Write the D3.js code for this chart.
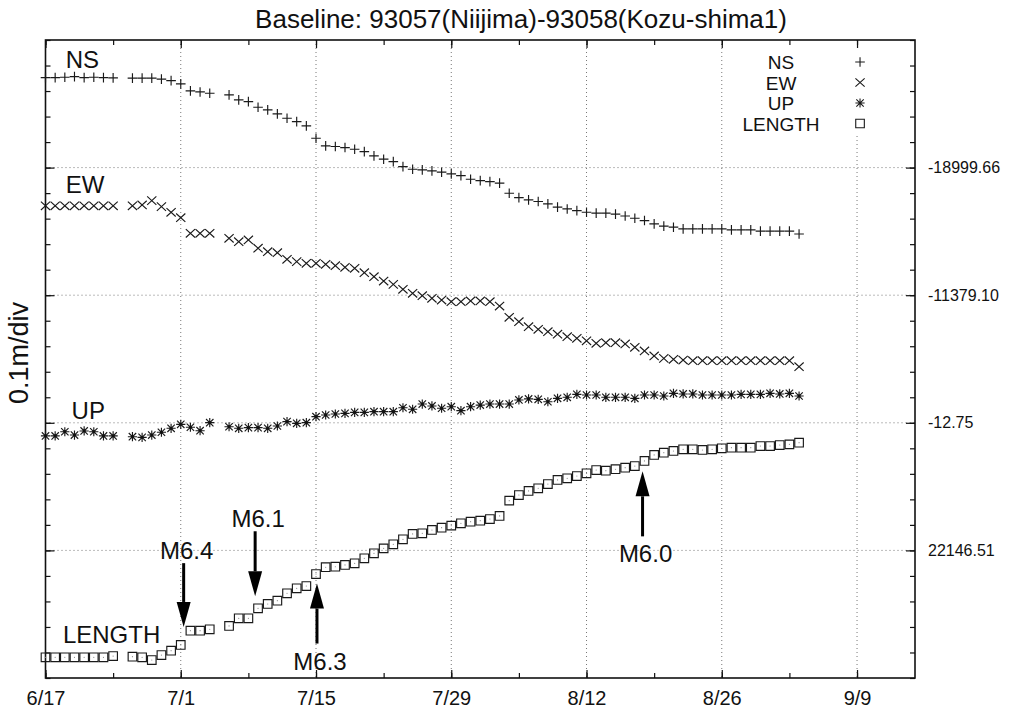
<!DOCTYPE html>
<html>
<head>
<meta charset="utf-8">
<script src="https://cdn.jsdelivr.net/npm/d3@7"></script>
<style>
  body { margin: 0; background: #fff; }
  text { font-family: "Liberation Sans", Arial, Helvetica, sans-serif; fill: #111; }
</style>
</head>
<body>
<svg id="chart" width="1027" height="715"></svg>
<script>
// daily solutions from 6/17 (index 0) to 9/3 (index 78), offsets in mm from each series reference
var startDate = new Date(2000, 5, 17);

var nsValues = [70.5, 70.5, 70.8, 71.3, 70.5, 70.8, 70.5, 70.3, null, 70.1,
  70.1, 70.1, 69.3, 68.2, 65.6, 60.1, 59.3, 58.3, null, 57.0,
  53.1, 51.7, 47.3, 45.2, 42.1, 38.7, 36.0, 32.7, 23.0, 17.0,
  16.5, 15.7, 14.4, 12.5, 9.2, 6.6, 4.7, 0.8, -1.3, -1.8,
  -2.6, -3.6, -4.9, -6.3, -9.1, -10.2, -11.0, -12.2, -20.1, -23.5,
  -25.3, -26.6, -28.4, -31.0, -32.4, -33.7, -35.0, -35.7, -35.7, -36.5,
  -37.9, -39.7, -41.5, -44.1, -45.9, -46.7, -48.0, -48.0, -48.0, -48.0,
  -48.0, -48.8, -48.8, -48.8, -49.8, -49.8, -49.8, -49.8, -52.0];

var ewValues = [70.1, 70.1, 70.1, 70.1, 70.1, 70.1, 70.1, 70.1, null, 70.1,
  70.7, 74.1, 69.4, 65.0, 60.7, 48.5, 48.5, 48.5, null, 44.6,
  41.9, 43.3, 36.8, 34.1, 33.3, 28.1, 26.3, 25.0, 25.0, 24.2,
  23.1, 21.9, 21.1, 17.6, 14.5, 11.1, 8.5, 4.6, 1.5, -0.4,
  -2.4, -3.8, -5.1, -5.1, -4.5, -4.5, -5.1, -8.5, -17.3, -20.8,
  -24.7, -26.7, -28.6, -30.6, -32.5, -33.8, -35.7, -37.7, -37.2, -37.2,
  -38.2, -40.8, -43.7, -47.6, -49.5, -50.2, -50.8, -51.3, -51.3, -51.3,
  -51.3, -51.3, -51.3, -51.3, -51.3, -51.3, -51.3, -51.3, -56.0];

var upValues = [-10.3, -10.3, -7.0, -9.6, -6.4, -7.0, -10.3, -10.3, null, -10.9,
  -11.4, -9.6, -7.4, -4.3, -1.2, -3.5, -6.2, 0.1, null, -3.1,
  -4.3, -3.8, -3.8, -4.3, -2.5, 0.9, -0.4, 0.1, 4.8, 6.1,
  6.9, 7.4, 8.2, 8.2, 8.7, 8.7, 8.7, 11.8, 10.6, 14.7,
  13.2, 11.4, 12.6, 9.5, 12.6, 13.9, 14.7, 14.7, 14.7, 17.9,
  18.7, 18.4, 16.5, 19.2, 20.0, 22.3, 21.8, 21.8, 20.0, 20.0,
  20.0, 19.2, 21.8, 21.8, 21.0, 23.1, 22.6, 22.6, 21.8, 21.8,
  21.8, 21.8, 22.3, 22.3, 22.3, 23.1, 22.6, 23.1, 21.0];

var lengthValues = [-83.8, -83.8, -83.8, -83.8, -83.8, -83.8, -83.8, -82.8, null, -83.3,
  -83.8, -85.9, -82.0, -78.6, -74.1, -62.9, -62.9, -61.8, null, -59.2,
  -53.2, -53.2, -45.4, -42.0, -39.4, -33.6, -29.7, -27.9, -18.5, -13.2,
  -12.8, -11.4, -10.1, -6.2, -2.3, 1.6, 4.8, 8.7, 12.9, 13.4,
  16.0, 17.8, 19.4, 21.2, 22.5, 23.3, 24.6, 27.0, 39.0, 43.4,
  46.6, 48.7, 52.0, 55.2, 56.5, 58.3, 60.4, 63.0, 62.5, 63.6,
  64.8, 66.1, 70.1, 74.8, 76.6, 77.9, 79.2, 79.2, 78.7, 79.2,
  80.0, 80.5, 80.5, 80.5, 81.8, 81.8, 82.6, 83.1, 84.4];

var seriesNames = ["NS", "EW", "UP", "LENGTH"];
var seriesRefs = [0.4, 0.3, 0.2, 0.1];   // plot level (m) of each series' reference line
var refLabels = ["-18999.66", "-11379.10", "-12.75", "22146.51"];

var xTickLabels = ["6/17", "7/1", "7/15", "7/29", "8/12", "8/26", "9/9"];

var eventLabels = ["M6.4", "M6.1", "M6.3", "M6.0"];
var eventDays = [14.3, 21.7, 28.1, 61.8];
var eventTips = [0.040, 0.064, 0.074, 0.162];
var eventTails = [0.090, 0.115, 0.027, 0.111];

var margin = {top: 40, right: 112, bottom: 37, left: 45.5},
    width = 1027 - margin.left - margin.right,
    height = 715 - margin.top - margin.bottom;

var svg = d3.select("#chart")
  .append("g")
    .attr("transform", "translate(" + margin.left + "," + margin.top + ")");

var dayToDate = function(d) { return new Date(startDate.getTime() + d * 864e5); };

var x = d3.scaleTime()
  .domain([startDate, new Date(2000, 8, 15)])
  .range([0, width]);

var y = d3.scaleLinear()
  .domain([0, 0.5])
  .range([height, 0]);

var majorDates = xTickLabels.map(function(d, i) { return dayToDate(i * 14); });
var minorDates = d3.range(0, 91, 7).map(dayToDate);
var minorY = d3.range(0, 0.5001, 0.02);

// gridlines
var grid = svg.append("g")
  .attr("stroke", "#777")
  .attr("stroke-width", 1)
  .attr("stroke-dasharray", "1,3");

grid.selectAll(".vg")
  .data(majorDates.slice(1))
  .enter().append("line")
    .attr("x1", function(d) { return x(d); })
    .attr("x2", function(d) { return x(d); })
    .attr("y1", 0)
    .attr("y2", height);

grid.selectAll(".hg")
  .data(seriesRefs)
  .enter().append("line")
    .attr("x1", 0)
    .attr("x2", width)
    .attr("y1", function(d) { return y(d); })
    .attr("y2", function(d) { return y(d); });

// legend box hides the grid behind it
svg.append("rect")
  .attr("x", 690)
  .attr("y", 3)
  .attr("width", 140)
  .attr("height", 92)
  .attr("fill", "#fff");

// axes, ticks point inward
function tidy(g) {
  g.select(".domain").remove();
  g.selectAll(".tick line").attr("stroke", "#111").attr("stroke-width", 1.2);
}

svg.append("g")
  .attr("transform", "translate(0," + height + ")")
  .call(d3.axisBottom(x).tickValues(majorDates).tickSize(-8).tickPadding(13)
    .tickFormat(function(d, i) { return xTickLabels[i]; }))
  .call(tidy)
  .selectAll("text")
    .attr("font-size", 20)
    .attr("font-family", "Liberation Sans, Arial, sans-serif")
    .attr("fill", "#111");

svg.append("g")
  .attr("transform", "translate(0," + height + ")")
  .call(d3.axisBottom(x).tickValues(minorDates).tickSize(-5).tickFormat(""))
  .call(tidy);

svg.append("g")
  .call(d3.axisTop(x).tickValues(majorDates).tickSize(-8).tickFormat(""))
  .call(tidy);

svg.append("g")
  .call(d3.axisTop(x).tickValues(minorDates).tickSize(-5).tickFormat(""))
  .call(tidy);

svg.append("g")
  .call(d3.axisLeft(y).tickValues(seriesRefs).tickSize(-9).tickFormat(""))
  .call(tidy);

svg.append("g")
  .call(d3.axisLeft(y).tickValues(minorY).tickSize(-5).tickFormat(""))
  .call(tidy);

svg.append("g")
  .attr("transform", "translate(" + width + ",0)")
  .call(d3.axisRight(y).tickValues(seriesRefs).tickSize(-9).tickPadding(13)
    .tickFormat(function(d, i) { return refLabels[i]; }))
  .call(tidy)
  .selectAll("text")
    .attr("font-size", 16)
    .attr("font-family", "Liberation Sans, Arial, sans-serif")
    .attr("fill", "#111");

svg.append("g")
  .attr("transform", "translate(" + width + ",0)")
  .call(d3.axisRight(y).tickValues(minorY).tickSize(-5).tickFormat(""))
  .call(tidy);

// frame
svg.append("rect")
  .attr("width", width)
  .attr("height", height)
  .attr("fill", "none")
  .attr("stroke", "#111")
  .attr("stroke-width", 1.6);

// point symbols
var symbols = [
  "M-4.8,0H4.8M0,-4.8V4.8",
  "M-4.6,-4.2L4.6,4.2M-4.6,4.2L4.6,-4.2",
  "M-4.6,0H4.6M0,-4.6V4.6M-3.7,-3.7L3.7,3.7M-3.7,3.7L3.7,-3.7",
  "M-4.3,-4.3H4.3V4.3H-4.3Z"
];
var allValues = [nsValues, ewValues, upValues, lengthValues];

allValues.forEach(function(vals, s) {
  var pts = vals.map(function(v, i) { return {date: dayToDate(i), v: v}; })
    .filter(function(d) { return d.v !== null; });

  var g = svg.append("g");
  g.selectAll("path")
    .data(pts)
    .enter().append("path")
      .attr("transform", function(d) {
        return "translate(" + x(d.date) + "," + y(seriesRefs[s] + d.v / 1000) + ")";
      })
      .attr("d", symbols[s])
      .attr("fill", "none")
      .attr("stroke", "#1a1a1a")
      .attr("stroke-width", 1.15);

  if (s == 2 || s == 3) {
    g.selectAll("circle")
      .data(pts)
      .enter().append("circle")
        .attr("cx", function(d) { return x(d.date); })
        .attr("cy", function(d) { return y(seriesRefs[s] + d.v / 1000); })
        .attr("r", s == 2 ? 1.4 : 0.6)
        .attr("fill", s == 2 ? "#111" : "#888");
  }
});

// series names inside the plot
var nameDays = [2.1, 2.1, 2.7, 1.8];
var nameLevels = [0.478, 0.380, 0.203, 0.0274];
svg.selectAll(".sname")
  .data(seriesNames)
  .enter().append("text")
    .attr("x", function(d, i) { return x(dayToDate(nameDays[i])); })
    .attr("y", function(d, i) { return y(nameLevels[i]); })
    .attr("font-size", 24)
    .text(function(d) { return d; });

// earthquake arrows
eventLabels.forEach(function(lab, i) {
  var ax = x(dayToDate(eventDays[i])),
      tip = y(eventTips[i]),
      tail = y(eventTails[i]),
      dir = tip > tail ? 1 : -1,
      headLen = 25, headHalf = 7;

  svg.append("line")
    .attr("x1", ax).attr("x2", ax)
    .attr("y1", tail).attr("y2", tip - dir * headLen)
    .attr("stroke", "#000")
    .attr("stroke-width", 3);

  svg.append("path")
    .attr("d", "M" + ax + "," + tip +
      "L" + (ax - headHalf) + "," + (tip - dir * headLen) +
      "L" + (ax + headHalf) + "," + (tip - dir * headLen) + "Z")
    .attr("fill", "#000");

  svg.append("text")
    .attr("x", ax + 3)
    .attr("y", dir > 0 ? tail - 4 : tail + 26)
    .attr("text-anchor", "middle")
    .attr("font-size", 24)
    .text(lab);
});

// legend
var legend = svg.append("g")
  .attr("transform", "translate(" + (x(dayToDate(84)) + 3) + ",22)");

seriesNames.forEach(function(name, i) {
  legend.append("text")
    .attr("x", -79)
    .attr("y", i * 20.5 + 7)
    .attr("text-anchor", "middle")
    .attr("font-size", 19)
    .text(name);
  legend.append("path")
    .attr("transform", "translate(0," + (i * 20.5) + ")")
    .attr("d", symbols[i])
    .attr("fill", "none")
    .attr("stroke", "#1a1a1a")
    .attr("stroke-width", 1.1);
});

// titles
d3.select("#chart").append("text")
  .attr("x", 521)
  .attr("y", 28)
  .attr("text-anchor", "middle")
  .attr("font-size", 26)
  .text("Baseline: 93057(Niijima)-93058(Kozu-shima1)");

d3.select("#chart").append("text")
  .attr("transform", "translate(28,353) rotate(-90)")
  .attr("text-anchor", "middle")
  .attr("font-size", 27)
  .text("0.1m/div");
</script>
</body>
</html>
